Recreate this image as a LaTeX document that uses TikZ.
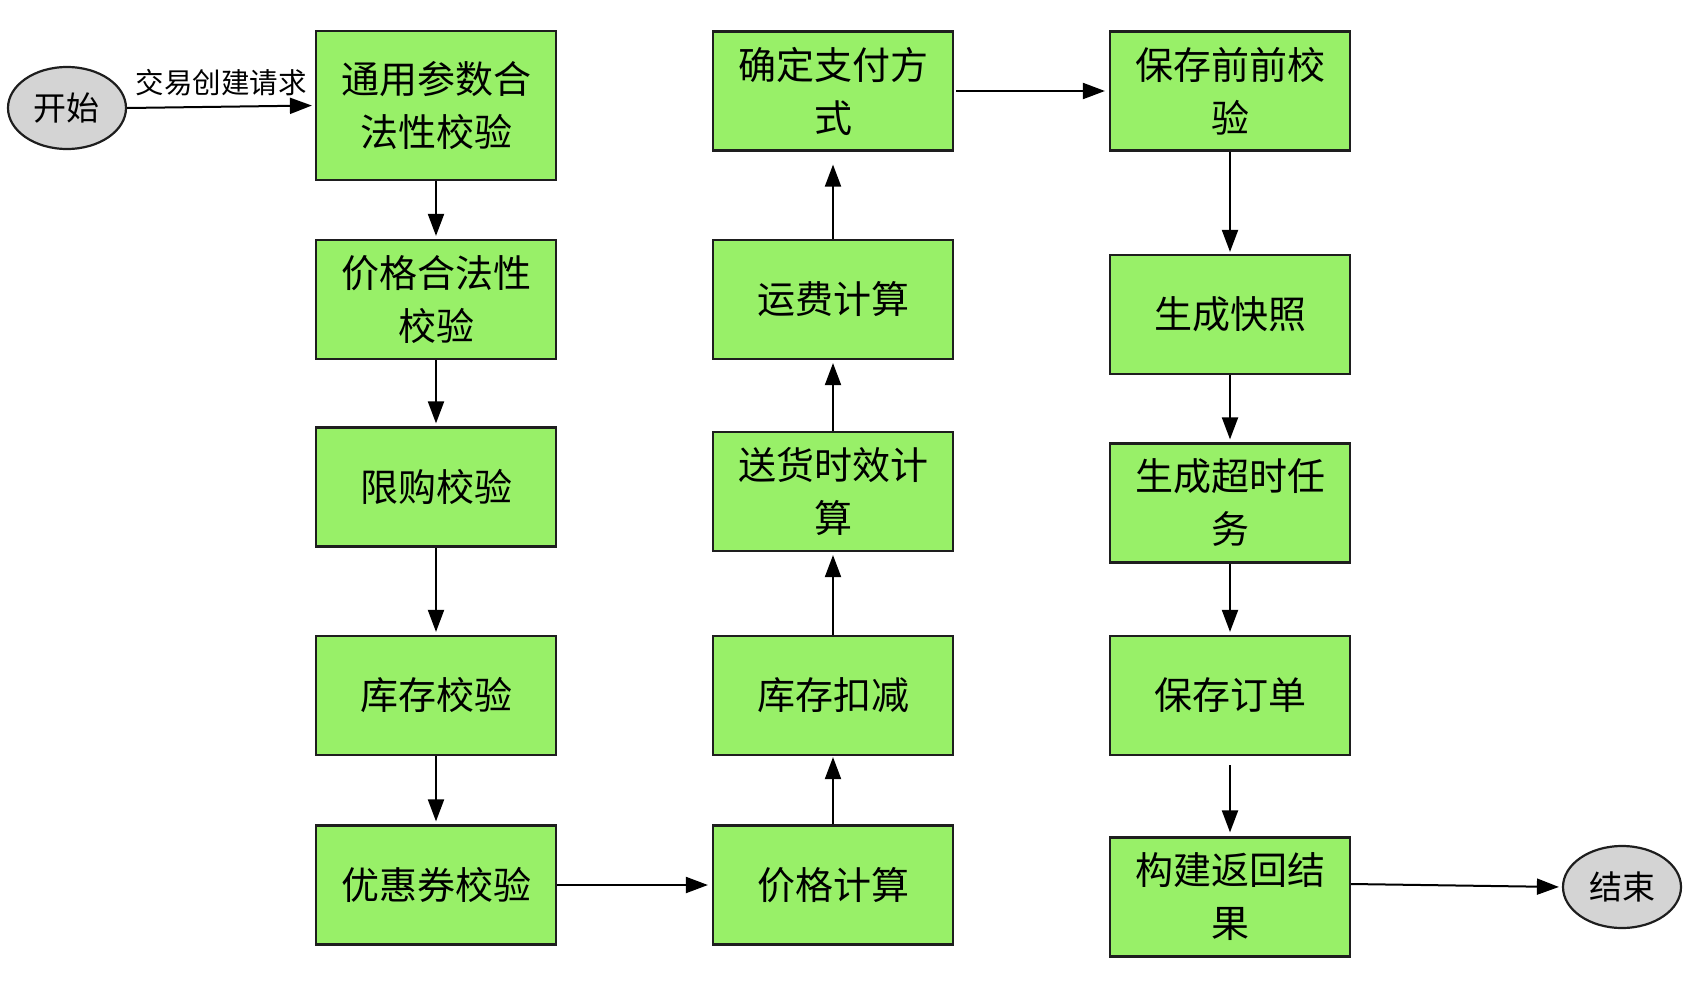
\documentclass[tikz,border=0pt]{standalone}
\usepackage{fontspec}
\setmainfont{Noto Sans CJK SC}
\usetikzlibrary{arrows.meta,shapes.geometric}
\definecolor{boxgreen}{RGB}{152,240,104}
\definecolor{ellgray}{RGB}{212,212,212}
\definecolor{edge}{RGB}{30,30,30}
\tikzset{
  stepbox/.style={draw=edge, line width=2.2pt, fill=boxgreen, minimum width=240pt, minimum height=119pt, inner sep=0pt, align=center, font=\fontsize{38}{53}\selectfont},
  term/.style={ellipse, draw=edge, line width=2.2pt, fill=ellgray, minimum width=118pt, minimum height=82pt, inner sep=0pt, font=\fontsize{33}{36}\selectfont},
  flow/.style={draw=black, line width=2pt, -{Triangle[length=22pt,width=16pt]}},
  lbl/.style={font=\fontsize{28.5}{30}\selectfont}
}
\begin{document}
\begin{tikzpicture}[x=1pt,y=-1pt]
\useasboundingbox (0,0) rectangle (1692,980);
% column 1
\node[stepbox, minimum height=149pt] (b1) at (436,105.5) {通用参数合\\法性校验};
\node[stepbox] (b2) at (436,299.5) {价格合法性\\校验};
\node[stepbox] (b3) at (436,487) {限购校验};
\node[stepbox] (b4) at (436,695.5) {库存校验};
\node[stepbox] (b5) at (436,885) {优惠券校验};
% column 2
\node[stepbox] (c1) at (833,91) {确定支付方\\式};
\node[stepbox] (c2) at (833,299.5) {运费计算};
\node[stepbox] (c3) at (833,491.5) {送货时效计\\算};
\node[stepbox] (c4) at (833,695.5) {库存扣减};
\node[stepbox] (c5) at (833,885) {价格计算};
% column 3
\node[stepbox] (d1) at (1230,91) {保存前前校\\验};
\node[stepbox] (d2) at (1230,314.5) {生成快照};
\node[stepbox] (d3) at (1230,503) {生成超时任\\务};
\node[stepbox] (d4) at (1230,695.5) {保存订单};
\node[stepbox] (d5) at (1230,897) {构建返回结\\果};
% terminals
\node[term] (start) at (67,108) {开始};
\node[term] (stop) at (1622,887) {结束};
% connectors
\draw[flow, shorten >=3pt] (start.east) -- node[lbl, above=6pt] {交易创建请求} (b1.west);
\draw[flow, shorten >=3pt] (b1.south) -- (b2.north);
\draw[flow, shorten >=3pt] (b2.south) -- (b3.north);
\draw[flow, shorten >=3pt] (b3.south) -- (b4.north);
\draw[flow, shorten >=3pt] (b4.south) -- (b5.north);
\draw[flow, shorten >=4pt] (b5.east) -- (c5.west);
\draw[flow, shorten >=1pt] (c5.north) -- (c4.south);
\draw[flow, shorten >=3pt] (c4.north) -- (c3.south);
\draw[flow, shorten >=3pt] (c3.north) -- (c2.south);
\draw[flow, shorten >=13pt] (c2.north) -- (c1.south);
\draw[flow, shorten <=2pt, shorten >=4pt] (c1.east) -- (d1.west);
\draw[flow, shorten >=2pt] (d1.south) -- (d2.north);
\draw[flow, shorten >=3pt] (d2.south) -- (d3.north);
\draw[flow, shorten >=3pt] (d3.south) -- (d4.north);
\draw[flow, shorten <=9pt, shorten >=4pt] (d4.south) -- (d5.north);
\draw[flow, shorten >=3pt] ([yshift=13pt]d5.east) -- (stop.west);
\end{tikzpicture}
\end{document}
